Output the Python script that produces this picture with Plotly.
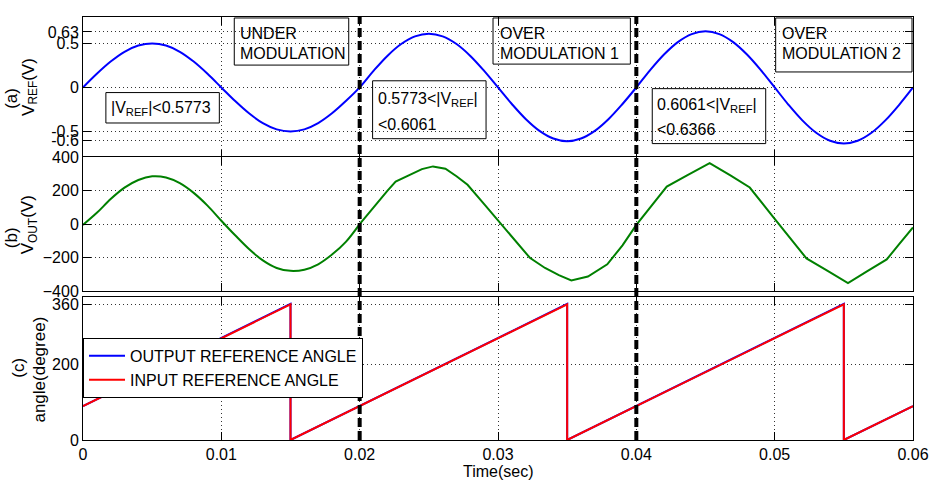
import plotly.graph_objects as go

# ---------------- data ----------------
t_ref = [0.000, 0.001, 0.002, 0.003, 0.004, 0.005, 0.006, 0.007, 0.008, 0.009,
         0.010, 0.011, 0.012, 0.013, 0.014, 0.015, 0.016, 0.017, 0.018, 0.019,
         0.020, 0.021, 0.022, 0.023, 0.024, 0.025, 0.026, 0.027, 0.028, 0.029,
         0.030, 0.031, 0.032, 0.033, 0.034, 0.035, 0.036, 0.037, 0.038, 0.039,
         0.040, 0.041, 0.042, 0.043, 0.044, 0.045, 0.046, 0.047, 0.048, 0.049,
         0.050, 0.051, 0.052, 0.053, 0.054, 0.055, 0.056, 0.057, 0.058, 0.059,
         0.060]
v_ref = [0, 0.155, 0.294, 0.405, 0.476, 0.5, 0.476, 0.405, 0.294, 0.155,
         0, -0.155, -0.294, -0.405, -0.476, -0.5, -0.476, -0.405, -0.294, -0.155,
         0, 0.188, 0.358, 0.493, 0.580, 0.61, 0.580, 0.493, 0.358, 0.188,
         0, -0.188, -0.358, -0.493, -0.580, -0.61, -0.580, -0.493, -0.358, -0.188,
         0, 0.197, 0.374, 0.515, 0.606, 0.637, 0.606, 0.515, 0.374, 0.197,
         0, -0.197, -0.374, -0.515, -0.606, -0.637, -0.606, -0.515, -0.374, -0.197,
         0]

t_out = [0.000, 0.001, 0.002, 0.003, 0.004, 0.005, 0.006, 0.007, 0.008, 0.009,
         0.010, 0.011, 0.012, 0.013, 0.014, 0.015, 0.016, 0.017, 0.018, 0.019,
         0.0200, 0.0210, 0.0220, 0.0226, 0.0235, 0.0245, 0.0253, 0.0262, 0.0270, 0.0278,
         0.0290, 0.0300, 0.0312, 0.0323, 0.0334, 0.0344, 0.0353, 0.0365, 0.0379, 0.0390,
         0.0400, 0.0410, 0.0422, 0.0437, 0.0453, 0.0468, 0.0482, 0.0499, 0.0512, 0.0523,
         0.0538, 0.0553, 0.0567, 0.0581, 0.0590, 0.0600]
v_out = [-5, 67, 149, 217, 263, 285, 278, 244, 186, 110,
         20, -67, -149, -217, -262, -279, -272, -240, -182, -106,
         0, 100, 198, 253, 290, 328, 344, 330, 285, 234,
         119, 21, -95, -201, -262, -305, -336, -313, -240, -127,
         -5, 100, 224, 292, 363, 290, 218, 41, -92, -205,
         -278, -352, -281, -211, -120, -20]

t_ang = [0.000, 0.015, 0.015, 0.035, 0.035, 0.055, 0.055, 0.060]
ang_output = [90, 361, 0, 361, 0, 361, 0, 90]
ang_input = [90, 360, 0, 360, 0, 360, 0, 90]

x_ticks = [0, 0.01, 0.02, 0.03, 0.04, 0.05, 0.06]
x_labels = ['0', '0.01', '0.02', '0.03', '0.04', '0.05', '0.06']
a_ticks = [-0.6, -0.5, 0, 0.5, 0.63]
a_labels = ['-0.6', '-0.5', '0', '0.5', '0.63']
b_ticks = [-400, -200, 0, 200, 400]
c_ticks = [0, 200, 360]
mode_changes = [0.02, 0.04]

# ---------------- layout helpers (pixel -> paper) ----------------
L, T, W, H = 83, 9, 834, 431
def xp(px):
    return (px - L) / W
def yp(py):
    return (T + H - py) / H

FONT = "Liberation Sans, Arial, sans-serif"
SPLIT = 21  # first (under-modulation) cycle is a smooth sine

fig = go.Figure()
fig.add_trace(go.Scatter(x=t_ref, y=v_ref, mode='lines', xaxis='x', yaxis='y',
                         line=dict(color='#0000FF', width=2, shape='spline'), showlegend=False))
fig.add_trace(go.Scatter(x=t_out[:SPLIT], y=v_out[:SPLIT], mode='lines', xaxis='x2', yaxis='y2',
                         line=dict(color='#008000', width=2, shape='spline'), showlegend=False))
fig.add_trace(go.Scatter(x=t_out[SPLIT - 1:], y=v_out[SPLIT - 1:], mode='lines', xaxis='x2', yaxis='y2',
                         line=dict(color='#008000', width=2), showlegend=False))
fig.add_trace(go.Scatter(x=t_ang, y=ang_output, mode='lines', xaxis='x3', yaxis='y3',
                         name='OUTPUT REFERENCE ANGLE', line=dict(color='#0000FF', width=2)))
fig.add_trace(go.Scatter(x=t_ang, y=ang_input, mode='lines', xaxis='x3', yaxis='y3',
                         name='INPUT REFERENCE ANGLE', line=dict(color='#FF0000', width=2)))

common = dict(showline=True, linecolor='black', linewidth=1, mirror='ticks',
              ticks='inside', ticklen=8, tickcolor='black', tickwidth=1,
              showgrid=True, gridcolor='#333333', griddash='1px,3px', gridwidth=1,
              zeroline=False, tickfont=dict(size=16, color='black', family=FONT))

xcommon = dict(common, range=[0, 0.06], tickvals=x_ticks, ticktext=x_labels)

fig.update_layout(
    width=938, height=484,
    margin=dict(l=L, r=938 - L - W, t=T, b=484 - T - H),
    plot_bgcolor='white', paper_bgcolor='white',
    font=dict(family=FONT, size=16, color='black'),
    xaxis=dict(xcommon, anchor='y', showticklabels=False),
    xaxis2=dict(xcommon, anchor='y2', matches='x', showticklabels=False),
    xaxis3=dict(xcommon, anchor='y3', matches='x'),
    yaxis=dict(common, domain=[0.667, 1.0], range=[-0.8, 0.8], tickvals=a_ticks, ticktext=a_labels),
    yaxis2=dict(common, domain=[0.352, 0.669], range=[-400, 400], tickvals=b_ticks),
    yaxis3=dict(common, domain=[0.0, 0.3376], range=[0, 379], tickvals=c_ticks),
    legend=dict(x=0, y=yp(336), xanchor='left', yanchor='top', bgcolor='white',
                bordercolor='black', borderwidth=1, font=dict(size=16), itemwidth=36,
                tracegroupgap=0),
)

shapes = []
for tx in mode_changes:
    shapes.append(dict(type='line', xref='x3', yref='paper', x0=tx, x1=tx, y0=0, y1=1,
                       line=dict(color='black', width=4, dash='9px,4px')))
boxes = [(235, 10, 350, 58), (495, 10, 633, 57), (779, 10, 916, 65),
         (106, 86, 220, 117), (374, 74, 488, 133), (655, 82, 769, 138)]
for (x0, y0, x1, y1) in boxes:
    shapes.append(dict(type='rect', xref='paper', yref='paper',
                       x0=xp(x0), x1=xp(x1), y0=yp(y1), y1=yp(y0),
                       line=dict(color='black', width=1), fillcolor='rgba(0,0,0,0)'))
fig.update_layout(shapes=shapes)

ann = []
def txt(s, px, py, size=16, angle=0, xanchor='left'):
    ann.append(dict(text=s, x=xp(px), y=yp(py), xref='paper', yref='paper',
                    xanchor=xanchor, yanchor='middle', showarrow=False, textangle=angle,
                    font=dict(size=size, color='black', family=FONT)))

txt('UNDER', 239, 25.5)
txt('MODULATION', 239, 46)
txt('OVER', 500, 25.5)
txt('MODULATION 1', 500, 46)
txt('OVER', 783, 26)
txt('MODULATION 2', 783, 46.5)
txt('|V<sub>REF</sub>|<0.5773', 109, 102)
txt('0.5773<|V<sub>REF</sub>|', 377, 93)
txt('<0.6061', 377, 119)
txt('0.6061<|V<sub>REF</sub>|', 658, 99)
txt('<0.6366', 658, 124)

txt('(a)', 11, 92, size=17, angle=-90, xanchor='center')
txt('V<sub>REF</sub>(V)', 29, 80, size=17, angle=-90, xanchor='center')
txt('(b)', 11, 234, size=17, angle=-90, xanchor='center')
txt('V<sub>OUT</sub>(V)', 29, 221, size=17, angle=-90, xanchor='center')
txt('(c)', 18, 366, size=17, angle=-90, xanchor='center')
txt('angle(degree)', 39, 368, size=17, angle=-90, xanchor='center')
txt('Time(sec)', 500, 472, size=16, xanchor='center')
fig.update_layout(annotations=ann)

fig.write_html("out.html", config={'displayModeBar': False},
               post_script="document.body.style.margin='0';document.body.style.overflow='hidden';")
